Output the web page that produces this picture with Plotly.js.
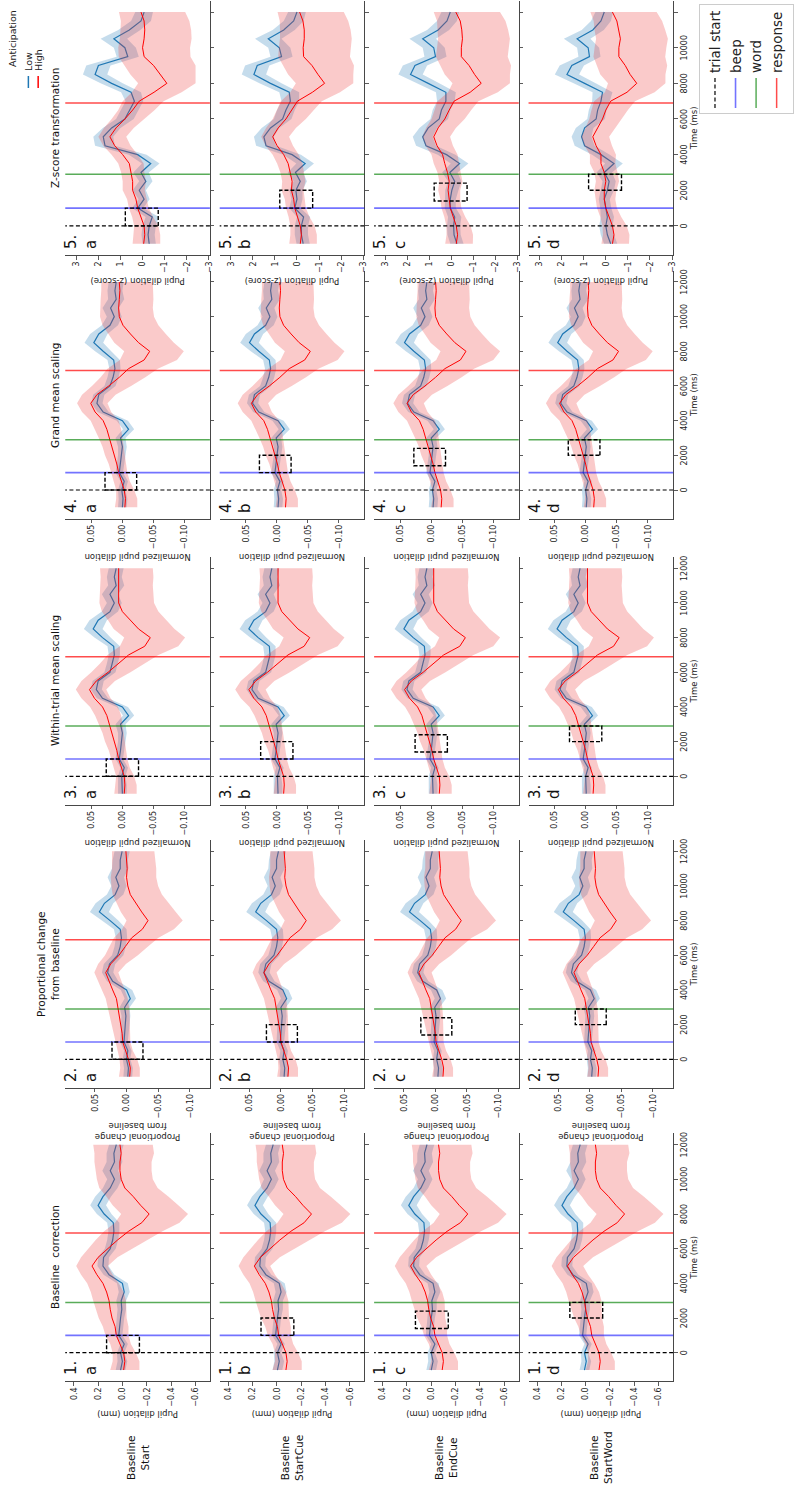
<!DOCTYPE html>
<html><head><meta charset="utf-8">
<script src="https://cdn.plot.ly/plotly-3.0.1.min.js"></script>
<style>
html,body{margin:0;padding:0;width:794px;height:1490px;overflow:hidden;background:#fff}
#chart{position:absolute;left:0;top:0;width:1490px;height:794px;transform-origin:0 0;transform:translateY(1490px) rotate(-90deg);}
</style></head>
<body><div id="chart"></div>
<script>
// ---------------- DATA ----------------
const T = [-1000,-500,0,500,1000,1500,2000,2500,3000,3500,4000,4500,5000,5500,6000,6500,7000,7500,8000,8500,9000,9500,10000,10500,11000,11500,12000];

// Column 1: Baseline correction (mm)
const c1aHigh = [-0.01,-0.02,-0.01,0.02,0.05,0.06,0.085,0.1,0.11,0.13,0.16,0.21,0.25,0.2,0.12,0.04,-0.05,-0.16,-0.22,-0.15,-0.09,-0.02,0.01,0.02,0.02,0.01,0.02];
const c1aLow  = [0.015,0.0,0.015,-0.015,0.03,0.025,0.015,0.005,0.01,-0.015,0.0,0.11,0.16,0.155,0.1,0.08,0.07,0.075,0.15,0.2,0.16,0.1,0.065,0.1,0.065,0.07,0.05];
const c1bHigh = [-0.075,-0.085,-0.075,-0.045,-0.015,-0.005,0.02,0.035,0.045,0.065,0.095,0.145,0.185,0.135,0.055,-0.025,-0.115,-0.225,-0.285,-0.215,-0.155,-0.085,-0.055,-0.045,-0.045,-0.055,-0.045];
const c1bLow  = [-0.005,-0.02,-0.005,-0.035,0.01,0.005,-0.005,-0.015,-0.01,-0.035,-0.02,0.09,0.14,0.135,0.08,0.06,0.05,0.055,0.13,0.18,0.14,0.08,0.045,0.08,0.045,0.05,0.03];
const c1cHigh = [-0.09,-0.1,-0.09,-0.06,-0.03,-0.02,0.005,0.02,0.03,0.05,0.08,0.13,0.17,0.12,0.04,-0.04,-0.13,-0.24,-0.3,-0.23,-0.17,-0.1,-0.07,-0.06,-0.06,-0.07,-0.06];
const c1cLow  = [0.0,-0.015,0.0,-0.03,0.015,0.01,0.0,-0.01,-0.005,-0.03,-0.015,0.095,0.145,0.14,0.085,0.065,0.055,0.06,0.135,0.185,0.145,0.085,0.05,0.085,0.05,0.055,0.035];
const c1dHigh = [-0.11,-0.12,-0.11,-0.08,-0.05,-0.04,-0.015,0.0,0.01,0.03,0.06,0.11,0.15,0.1,0.02,-0.06,-0.15,-0.26,-0.32,-0.25,-0.19,-0.12,-0.09,-0.08,-0.08,-0.09,-0.08];
const c1dLow  = [0.01,-0.005,0.01,-0.02,0.025,0.02,0.01,0.0,0.005,-0.02,-0.005,0.105,0.155,0.15,0.095,0.075,0.065,0.07,0.145,0.195,0.155,0.095,0.06,0.095,0.06,0.065,0.045];
const c1HighUp = [0.11,0.1,0.09,0.08,0.09,0.1,0.11,0.12,0.13,0.13,0.13,0.13,0.13,0.14,0.16,0.18,0.2,0.22,0.23,0.23,0.22,0.21,0.2,0.2,0.21,0.22,0.22];
const c1HighDn = [0.13,0.12,0.1,0.09,0.1,0.11,0.12,0.13,0.14,0.14,0.13,0.13,0.13,0.16,0.2,0.24,0.28,0.31,0.32,0.31,0.29,0.27,0.26,0.26,0.26,0.27,0.27];
const c1LowHw  = [0.04,0.04,0.03,0.03,0.03,0.03,0.03,0.035,0.04,0.045,0.045,0.045,0.045,0.045,0.045,0.045,0.045,0.05,0.06,0.065,0.065,0.06,0.06,0.065,0.065,0.06,0.06];

// Column 2: Proportional change from baseline
const c2aHigh = [-0.005,-0.006,-0.003,0.002,0.006,0.007,0.009,0.011,0.013,0.016,0.022,0.028,0.033,0.025,0.012,0.002,-0.008,-0.025,-0.034,-0.024,-0.015,-0.006,-0.002,0.0,-0.001,0.0,0.001];
const c2aLow  = [-0.002,-0.003,0.0,-0.002,0.004,0.003,0.002,0.001,0.003,-0.006,0.0,0.022,0.03,0.027,0.014,0.01,0.008,0.01,0.026,0.043,0.035,0.018,0.012,0.017,0.01,0.01,0.007];
const c2bHigh = [-0.011,-0.012,-0.009,-0.004,0.0,0.001,0.003,0.005,0.007,0.01,0.016,0.022,0.027,0.019,0.006,-0.004,-0.014,-0.031,-0.04,-0.03,-0.021,-0.012,-0.008,-0.006,-0.007,-0.006,-0.005];
const c2bLow  = [-0.005,-0.006,-0.003,-0.005,0.001,0.0,-0.001,-0.002,0.0,-0.009,-0.003,0.019,0.027,0.024,0.011,0.007,0.005,0.007,0.023,0.04,0.032,0.015,0.009,0.014,0.007,0.007,0.004];
const c2cHigh = [-0.012,-0.013,-0.01,-0.005,-0.001,0.0,0.002,0.004,0.006,0.009,0.015,0.021,0.026,0.018,0.005,-0.005,-0.015,-0.032,-0.041,-0.031,-0.022,-0.013,-0.009,-0.007,-0.008,-0.007,-0.006];
const c2cLow  = [-0.004,-0.005,-0.002,-0.004,0.002,0.001,0.0,-0.001,0.001,-0.008,-0.002,0.02,0.028,0.025,0.012,0.008,0.006,0.008,0.024,0.041,0.033,0.016,0.01,0.015,0.008,0.008,0.005];
const c2dHigh = [-0.013,-0.014,-0.011,-0.006,-0.002,-0.001,0.001,0.003,0.005,0.008,0.014,0.02,0.025,0.017,0.004,-0.006,-0.016,-0.033,-0.042,-0.032,-0.023,-0.014,-0.01,-0.008,-0.009,-0.008,-0.007];
const c2dLow  = [-0.003,-0.004,-0.001,-0.003,0.003,0.002,0.001,0.0,0.002,-0.007,-0.001,0.021,0.029,0.026,0.013,0.009,0.007,0.009,0.025,0.042,0.034,0.017,0.011,0.016,0.009,0.009,0.006];
const c2HighUp = [0.017,0.016,0.014,0.012,0.012,0.013,0.014,0.015,0.016,0.017,0.017,0.017,0.018,0.02,0.022,0.025,0.028,0.032,0.034,0.033,0.03,0.028,0.026,0.025,0.024,0.023,0.022];
const c2HighDn = [0.016,0.015,0.014,0.012,0.012,0.013,0.015,0.016,0.017,0.018,0.019,0.02,0.02,0.024,0.03,0.036,0.042,0.05,0.055,0.054,0.052,0.05,0.048,0.047,0.046,0.045,0.045];
const c2LowHw  = [0.007,0.007,0.006,0.006,0.006,0.006,0.006,0.007,0.008,0.009,0.009,0.009,0.009,0.009,0.009,0.009,0.009,0.01,0.013,0.015,0.014,0.013,0.012,0.013,0.013,0.012,0.012];

// Column 3: Within-trial mean scaling
const c3aHigh = [-0.003,-0.004,-0.003,0.002,0.006,0.009,0.013,0.016,0.02,0.025,0.032,0.045,0.053,0.042,0.023,0.006,-0.01,-0.036,-0.045,-0.026,-0.013,0.0,0.006,0.006,0.006,0.005,0.006];
const c3aLow  = [0.0,0.0,0.001,-0.003,0.005,0.003,0.001,0.0,0.003,-0.01,0.0,0.032,0.042,0.039,0.02,0.016,0.013,0.014,0.032,0.047,0.039,0.02,0.013,0.02,0.01,0.013,0.01];
const c3bHigh = [-0.011,-0.012,-0.011,-0.006,-0.002,0.001,0.005,0.008,0.012,0.017,0.024,0.037,0.045,0.034,0.015,-0.002,-0.018,-0.044,-0.053,-0.034,-0.021,-0.008,-0.002,-0.002,-0.002,-0.003,-0.002];
const c3bLow  = [-0.002,-0.002,-0.001,-0.005,0.003,0.001,-0.001,-0.002,0.001,-0.012,-0.002,0.03,0.04,0.037,0.018,0.014,0.011,0.012,0.03,0.045,0.037,0.018,0.011,0.018,0.008,0.011,0.008];
const c3cHigh = [-0.013,-0.014,-0.013,-0.008,-0.004,-0.001,0.003,0.006,0.01,0.015,0.022,0.035,0.043,0.032,0.013,-0.004,-0.02,-0.046,-0.055,-0.036,-0.023,-0.01,-0.004,-0.004,-0.004,-0.005,-0.004];
const c3cLow  = [-0.003,-0.003,-0.002,-0.006,0.002,0.0,-0.002,-0.003,0.0,-0.013,-0.003,0.029,0.039,0.036,0.017,0.013,0.01,0.011,0.029,0.044,0.036,0.017,0.01,0.017,0.007,0.01,0.007];
const c3dHigh = [-0.012,-0.013,-0.012,-0.007,-0.003,0.0,0.004,0.007,0.011,0.016,0.023,0.036,0.044,0.033,0.014,-0.003,-0.019,-0.045,-0.054,-0.035,-0.022,-0.009,-0.003,-0.003,-0.003,-0.004,-0.003];
const c3dLow  = [-0.001,-0.001,0.0,-0.004,0.004,0.002,0.0,-0.001,0.002,-0.011,-0.001,0.031,0.041,0.038,0.019,0.015,0.012,0.013,0.031,0.046,0.038,0.019,0.012,0.019,0.009,0.012,0.009];
const c3HighUp = [0.016,0.015,0.013,0.012,0.012,0.013,0.015,0.016,0.018,0.019,0.02,0.021,0.022,0.024,0.027,0.03,0.034,0.04,0.042,0.04,0.036,0.033,0.031,0.03,0.03,0.03,0.03];
const c3HighDn = [0.02,0.019,0.016,0.014,0.014,0.015,0.017,0.019,0.021,0.023,0.025,0.026,0.027,0.03,0.036,0.042,0.048,0.054,0.056,0.058,0.058,0.058,0.057,0.056,0.055,0.055,0.055];
const c3LowHw  = [0.007,0.007,0.006,0.006,0.006,0.006,0.006,0.007,0.008,0.009,0.009,0.009,0.009,0.009,0.009,0.009,0.009,0.01,0.013,0.015,0.014,0.013,0.012,0.013,0.013,0.012,0.012];

// Column 4: Grand mean scaling
const c4aHigh = [-0.004,-0.005,-0.003,0.002,0.006,0.009,0.013,0.016,0.02,0.025,0.031,0.044,0.051,0.041,0.022,0.005,-0.01,-0.035,-0.044,-0.026,-0.013,-0.001,0.005,0.006,0.005,0.004,0.005];
const c4aLow  = [0.0,-0.001,0.001,-0.003,0.005,0.003,0.001,0.0,0.003,-0.01,0.0,0.031,0.041,0.038,0.02,0.015,0.012,0.014,0.031,0.046,0.038,0.02,0.013,0.019,0.01,0.012,0.01];
const c4bHigh = [-0.014,-0.015,-0.013,-0.008,-0.004,-0.001,0.003,0.006,0.01,0.015,0.021,0.034,0.041,0.031,0.012,-0.005,-0.02,-0.045,-0.054,-0.036,-0.023,-0.011,-0.005,-0.004,-0.005,-0.006,-0.005];
const c4bLow  = [-0.002,-0.003,-0.001,-0.005,0.003,0.001,-0.001,-0.002,0.001,-0.012,-0.002,0.029,0.039,0.036,0.018,0.013,0.01,0.012,0.029,0.044,0.036,0.018,0.011,0.017,0.008,0.01,0.008];
const c4cHigh = [-0.016,-0.017,-0.015,-0.01,-0.006,-0.003,0.001,0.004,0.008,0.013,0.019,0.032,0.039,0.029,0.01,-0.007,-0.022,-0.047,-0.056,-0.038,-0.025,-0.013,-0.007,-0.006,-0.007,-0.008,-0.007];
const c4cLow  = [-0.003,-0.004,-0.002,-0.006,0.002,0.0,-0.002,-0.003,0.0,-0.013,-0.003,0.028,0.038,0.035,0.017,0.012,0.009,0.011,0.028,0.043,0.035,0.017,0.01,0.016,0.007,0.009,0.007];
const c4dHigh = [-0.013,-0.014,-0.012,-0.007,-0.003,0.0,0.004,0.007,0.011,0.016,0.022,0.035,0.042,0.032,0.013,-0.004,-0.019,-0.044,-0.053,-0.035,-0.022,-0.01,-0.004,-0.003,-0.004,-0.005,-0.004];
const c4dLow  = [-0.001,-0.002,0.0,-0.004,0.004,0.002,0.0,-0.001,0.002,-0.011,-0.001,0.03,0.04,0.037,0.019,0.014,0.011,0.013,0.03,0.045,0.037,0.019,0.012,0.018,0.009,0.011,0.009];
const c4HighUp = [0.016,0.015,0.013,0.012,0.012,0.013,0.015,0.016,0.018,0.019,0.02,0.021,0.022,0.024,0.027,0.03,0.034,0.039,0.041,0.039,0.036,0.033,0.031,0.03,0.03,0.03,0.029];
const c4HighDn = [0.02,0.019,0.016,0.014,0.014,0.015,0.017,0.019,0.021,0.023,0.025,0.026,0.027,0.03,0.036,0.042,0.047,0.053,0.055,0.057,0.057,0.057,0.056,0.055,0.055,0.054,0.054];
const c4LowHw  = [0.007,0.007,0.006,0.006,0.006,0.006,0.006,0.007,0.008,0.009,0.009,0.009,0.009,0.009,0.009,0.009,0.009,0.01,0.013,0.015,0.014,0.013,0.012,0.013,0.013,0.012,0.012];

// Column 5: Z-score transformation
const c5aHigh = [-0.05,-0.1,-0.07,0.07,0.22,0.3,0.45,0.45,0.52,0.6,0.9,1.26,1.48,1.2,0.8,0.45,0.15,-0.52,-1.1,-0.8,-0.5,-0.07,0.0,-0.07,-0.1,-0.07,0.07];
const c5aLow  = [-0.3,-0.25,-0.3,-0.44,0.22,-0.07,0.15,-0.15,0.07,-0.37,0.22,1.7,1.78,1.4,0.8,0.6,0.37,0.52,1.4,2.15,2.0,0.67,0.8,1.3,0.6,0.07,-0.07];
const c5bHigh = [-0.15,-0.2,-0.15,-0.02,0.1,0.15,0.25,0.22,0.3,0.4,0.6,0.9,1.1,0.85,0.5,0.25,-0.02,-0.7,-1.25,-0.95,-0.68,-0.3,-0.28,-0.33,-0.33,-0.27,-0.12];
const c5bLow  = [-0.28,-0.2,-0.2,-0.3,0.1,0.0,0.05,-0.15,0.07,-0.37,0.22,1.4,1.5,1.2,0.65,0.5,0.3,0.35,1.2,1.95,1.8,0.7,0.8,1.3,0.6,0.15,0.0];
const c5cHigh = [-0.22,-0.28,-0.22,-0.08,0.05,0.1,0.15,0.1,0.18,0.3,0.4,0.65,0.8,0.6,0.3,0.1,-0.12,-0.85,-1.35,-1.05,-0.8,-0.45,-0.45,-0.5,-0.47,-0.4,-0.2];
const c5cLow  = [-0.25,-0.12,-0.1,-0.15,0.05,0.05,-0.02,-0.15,0.07,-0.37,0.22,1.15,1.3,1.05,0.55,0.45,0.25,0.25,1.05,1.85,1.65,0.72,0.8,1.3,0.6,0.2,0.05];
const c5dHigh = [-0.3,-0.37,-0.3,-0.15,0.0,0.07,0.07,0.0,0.07,0.22,0.22,0.44,0.59,0.37,0.15,0.0,-0.22,-0.96,-1.4,-1.1,-0.88,-0.59,-0.59,-0.66,-0.59,-0.5,-0.3];
const c5dLow  = [-0.22,-0.07,0.0,-0.07,0.0,0.07,-0.07,-0.15,0.07,-0.37,0.22,0.96,1.1,0.96,0.44,0.37,0.22,0.15,0.96,1.76,1.54,0.74,0.8,1.3,0.59,0.22,0.07];
const c5HighUp = [0.5,0.5,0.45,0.4,0.4,0.4,0.45,0.45,0.45,0.5,0.5,0.52,0.52,0.55,0.6,0.65,0.75,1.0,1.3,1.35,1.3,1.15,1.1,1.1,1.1,1.05,1.0];
const c5HighDn = [0.75,0.7,0.65,0.55,0.5,0.5,0.55,0.6,0.6,0.65,0.68,0.72,0.74,0.8,0.9,1.0,1.1,1.25,1.3,1.6,1.9,2.1,2.15,2.15,2.1,2.05,2.0];
const c5LowHw  = [0.3,0.3,0.3,0.3,0.25,0.25,0.3,0.3,0.35,0.4,0.4,0.45,0.45,0.4,0.4,0.4,0.4,0.45,0.5,0.55,0.55,0.5,0.5,0.6,0.5,0.45,0.4];

// Events, baseline windows, labels
const eventNames = ['trial start','beep','word','response'];
const eventTimes = [0, 1000, 2900, 6900];
const windowStart = [0, 1000, 1400, 2000];
const windowEnd   = [1000, 2000, 2400, 2900];
const boxTop    = [0.13, 0.023, 0.026, 0.028, 0.78];
const boxBottom = [-0.14, -0.026, -0.026, -0.023, -0.71];
const colTitles = ['Baseline\u00a0 correction','Proportional change<br>from baseline','Within-trial mean scaling','Grand mean scaling','Z-score transformation'];
const rowLabels = ['Baseline<br>Start','Baseline<br>StartCue','Baseline<br>EndCue','Baseline<br>StartWord'];
const rowLetters = ['a','b','c','d'];
const yTitles = ['Pupil dilation (mm)','Proportional change<br>from baseline','Normalized pupil dilation','Normalized pupil dilation','Pupil dilation (z-score)'];
const timeTicks = [0,2000,4000,6000,8000,10000,12000];
const timeTickText = ['0','2000','4000','6000','8000','10000','12000'];
const yTickVals = [[0.4,0.2,0,-0.2,-0.4,-0.6],[0.05,0,-0.05,-0.1],[0.05,0,-0.05,-0.1],[0.05,0,-0.05,-0.1],[3,2,1,0,-1,-2,-3]];
const yTickText = [['0.4','0.2','0.0','\u22120.2','\u22120.4','\u22120.6'],['0.05','0.00','\u22120.05','\u22120.10'],['0.05','0.00','\u22120.05','\u22120.10'],['0.05','0.00','\u22120.05','\u22120.10'],['3','2','1','0','\u22121','\u22122','\u22123']];
const groupTitle = 'Anticipation';
const groupNames = ['Low','High'];

// ---------------- LAYOUT GEOMETRY (px in the unrotated 1490x794 figure) ----------------
const W = 1490, H = 794;
const colX = [[108.7,356.6],[402.1,650.0],[685.1,933.0],[971.4,1219.3],[1234.7,1489.5]];
const rowY = [[66.7,214.5],[224.5,372.3],[382.3,530.1],[540.1,687.9]];
const yRanges = [[-0.72,0.47],[-0.132,0.097],[-0.141,0.092],[-0.141,0.092],[-3.05,3.5]];

const columns = [
  {H:[c1aHigh,c1bHigh,c1cHigh,c1dHigh], L:[c1aLow,c1bLow,c1cLow,c1dLow], up:c1HighUp, dn:c1HighDn, bw:c1LowHw},
  {H:[c2aHigh,c2bHigh,c2cHigh,c2dHigh], L:[c2aLow,c2bLow,c2cLow,c2dLow], up:c2HighUp, dn:c2HighDn, bw:c2LowHw},
  {H:[c3aHigh,c3bHigh,c3cHigh,c3dHigh], L:[c3aLow,c3bLow,c3cLow,c3dLow], up:c3HighUp, dn:c3HighDn, bw:c3LowHw},
  {H:[c4aHigh,c4bHigh,c4cHigh,c4dHigh], L:[c4aLow,c4bLow,c4cLow,c4dLow], up:c4HighUp, dn:c4HighDn, bw:c4LowHw},
  {H:[c5aHigh,c5bHigh,c5cHigh,c5dHigh], L:[c5aLow,c5bLow,c5cLow,c5dLow], up:c5HighUp, dn:c5HighDn, bw:c5LowHw}
];

const FONT = 'DejaVu Sans, sans-serif';
const LOW_COLOR = '#1f77b4', HIGH_COLOR = '#ff0000';
const eventStyle = [
  {color:'black', width:1.2, dash:'4px,2.5px'},
  {color:'rgba(0,0,255,0.55)', width:1.6, dash:'solid'},
  {color:'rgba(0,128,0,0.65)', width:1.5, dash:'solid'},
  {color:'rgba(255,0,0,0.7)', width:1.5, dash:'solid'}
];

const traces = [], shapes = [], annotations = [];
const layout = {
  width: W, height: H, margin:{l:0,r:0,t:0,b:0},
  paper_bgcolor:'#fff', plot_bgcolor:'#fff',
  font:{family:FONT, color:'#222', size:8},
  showlegend:true,
  legend2:{orientation:'v', x:1486/W, y:1-714/H, xanchor:'right', yanchor:'top', bgcolor:'#fff',
          bordercolor:'#cccccc', borderwidth:1, font:{family:FONT, size:13.5, color:'#222'}, itemwidth:30},
  shapes: shapes, annotations: annotations
};

for (let r = 0; r < 4; r++) {
  for (let c = 0; c < 5; c++) {
    const k = r*5 + c + 1;
    const xs = k === 1 ? 'x' : 'x'+k, ys = k === 1 ? 'y' : 'y'+k;
    const col = columns[c];
    const Hi = col.H[r], Lo = col.L[r];
    const first = (k === 1);

    traces.push({x:T, y:Lo.map((v,i)=>v+col.bw[i]), xaxis:xs, yaxis:ys, mode:'lines', line:{width:0, color:'rgba(0,0,0,0)'}, showlegend:false, hoverinfo:'skip'});
    traces.push({x:T, y:Lo.map((v,i)=>v-col.bw[i]), xaxis:xs, yaxis:ys, mode:'lines', line:{width:0, color:'rgba(0,0,0,0)'}, fill:'tonexty', fillcolor:'rgba(31,119,180,0.26)', showlegend:false, hoverinfo:'skip'});
    traces.push({x:T, y:Lo, xaxis:xs, yaxis:ys, mode:'lines', name:groupNames[0], line:{color:LOW_COLOR, width:1.2}, showlegend:false});
    traces.push({x:T, y:Hi.map((v,i)=>v+col.up[i]), xaxis:xs, yaxis:ys, mode:'lines', line:{width:0, color:'rgba(0,0,0,0)'}, showlegend:false, hoverinfo:'skip'});
    traces.push({x:T, y:Hi.map((v,i)=>v-col.dn[i]), xaxis:xs, yaxis:ys, mode:'lines', line:{width:0, color:'rgba(0,0,0,0)'}, fill:'tonexty', fillcolor:'rgba(235,60,60,0.27)', showlegend:false, hoverinfo:'skip'});
    traces.push({x:T, y:Hi, xaxis:xs, yaxis:ys, mode:'lines', name:groupNames[1], line:{color:HIGH_COLOR, width:1}, showlegend:false});

    layout['xaxis'+(k===1?'':k)] = {
      domain:[colX[c][0]/W, colX[c][1]/W], anchor:ys, range:[-1650,12650],
      tickvals:timeTicks, ticktext:timeTickText, showticklabels:(r===3),
      ticks:'outside', ticklen:3.5, tickwidth:0.8, tickcolor:'#333',
      tickfont:{family:FONT, size:8, color:'#222'},
      showline:true, linecolor:'#333', linewidth:0.9, mirror:false,
      showgrid:false, zeroline:false, automargin:false,
      title: r===3 ? {text:'Time (ms)', font:{family:FONT, size:8.5, color:'#222'}, standoff:2} : {text:''}
    };
    layout['yaxis'+(k===1?'':k)] = {
      domain:[1-rowY[r][1]/H, 1-rowY[r][0]/H], anchor:xs, range:yRanges[c],
      tickvals:yTickVals[c], ticktext:yTickText[c],
      ticks:'outside', ticklen:3.5, tickwidth:0.8, tickcolor:'#333',
      tickfont:{family:FONT, size:8, color:'#222'},
      showline:true, linecolor:'#333', linewidth:0.9, mirror:false,
      showgrid:false, zeroline:false, automargin:false,
      title:{text:yTitles[c], font:{family:FONT, size:8.5, color:'#222'}, standoff:2}
    };

    for (let e = 0; e < eventTimes.length; e++) {
      const s = {type:'line', xref:xs, yref:ys+' domain', x0:eventTimes[e], x1:eventTimes[e], y0:0, y1:1,
                 line:eventStyle[e], layer:'above'};
      if (first) { s.showlegend = true; s.name = eventNames[e]; s.legend = 'legend2'; }
      else { s.showlegend = false; }
      shapes.push(s);
    }
    shapes.push({type:'rect', xref:xs, yref:ys, x0:windowStart[r], x1:windowEnd[r], y0:boxBottom[c], y1:boxTop[c],
                 line:{color:'black', width:1.4, dash:'4px,2px'}, fillcolor:'rgba(0,0,0,0)', layer:'above'});

    annotations.push({xref:'paper', yref:'paper', x:(colX[c][0]+4)/W, y:1-(rowY[r][0]-5)/H, xanchor:'left', yanchor:'top',
                      text:(c+1)+'.', showarrow:false, font:{family:FONT, size:15, color:'#111'}});
    annotations.push({xref:'paper', yref:'paper', x:(colX[c][0]+4)/W, y:1-(rowY[r][0]+15)/H, xanchor:'left', yanchor:'top',
                      text:rowLetters[r], showarrow:false, font:{family:FONT, size:15, color:'#111'}});
  }
}

for (let c = 0; c < 5; c++) {
  annotations.push({xref:'paper', yref:'paper', x:((colX[c][0]+colX[c][1])/2)/W, y:1-64/H, xanchor:'center', yanchor:'bottom',
                    text:colTitles[c], showarrow:false, font:{family:FONT, size:10.5, color:'#111'}});
}
for (let r = 0; r < 4; r++) {
  annotations.push({xref:'paper', yref:'paper', x:32/W, y:1-((rowY[r][0]+rowY[r][1])/2)/H, xanchor:'center', yanchor:'middle',
                    text:rowLabels[r], showarrow:false, align:'center', font:{family:FONT, size:10.5, color:'#111'}});
}

// "Anticipation" key (top right of the unrotated figure)
annotations.push({xref:'paper', yref:'paper', x:1451/W, y:1-13/H, xanchor:'center', yanchor:'middle',
                  text:groupTitle, showarrow:false, font:{family:FONT, size:9.5, color:'#222'}});
const keyColors = [LOW_COLOR, HIGH_COLOR];
for (let g = 0; g < 2; g++) {
  const yy = 1 - (29 + 10*g)/H;
  shapes.push({type:'line', xref:'paper', yref:'paper', x0:1402/W, x1:1414/W, y0:yy, y1:yy,
               line:{color:keyColors[g], width:1.5}, showlegend:false});
  annotations.push({xref:'paper', yref:'paper', x:1417/W, y:yy, xanchor:'left', yanchor:'middle',
                    text:groupNames[g], showarrow:false, font:{family:FONT, size:9.5, color:'#222'}});
}

Plotly.newPlot('chart', traces, layout, {displayModeBar:false, staticPlot:true, responsive:false});
</script>
</body></html>
